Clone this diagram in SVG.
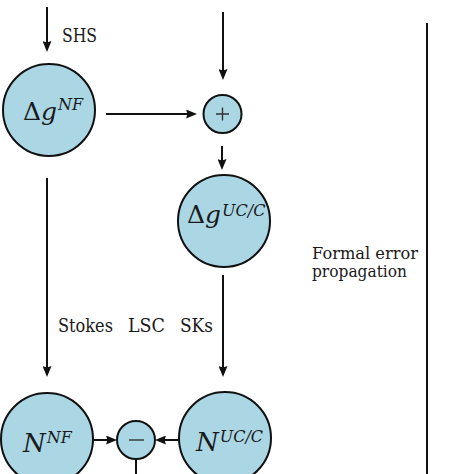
<svg xmlns="http://www.w3.org/2000/svg" width="474" height="474" viewBox="0 0 474 474">
<defs>
<style>
.node{fill:#abd7e5;stroke:#111;stroke-width:2}
.op{fill:#abd7e5;stroke:#111;stroke-width:2}
.sym{stroke:#333;stroke-width:1.4;fill:none}
.edge{stroke:#111;stroke-width:2;fill:none;marker-end:url(#ah)}
.line{stroke:#111;stroke-width:2;fill:none}
text{font-family:'DejaVu Serif','Liberation Serif',serif;fill:#1a1a1a}
</style>
<marker id="ah" viewBox="0 0 11 9" refX="5" refY="4.5" markerWidth="11" markerHeight="9" markerUnits="userSpaceOnUse" orient="auto">
<path d="M0,0 L11,4.5 L0,9 L1.5,4.5 Z" fill="#111"/>
</marker>
</defs>
<rect width="474" height="474" fill="#fff"/>
<g id="connectors">
<line class="edge" x1="47" y1="7" x2="47" y2="46"/>
<line class="edge" x1="223" y1="12" x2="223" y2="74"/>
<line class="edge" x1="106" y1="114" x2="191" y2="114"/>
<line class="edge" x1="222" y1="146" x2="222" y2="164"/>
<line class="edge" x1="47" y1="178" x2="47" y2="371"/>
<line class="edge" x1="223" y1="275" x2="223" y2="371"/>
<line class="edge" x1="93" y1="440" x2="111" y2="440"/>
<line class="edge" x1="179" y1="440" x2="161" y2="440"/>
<line class="line" x1="136" y1="460" x2="136" y2="474"/>
<line class="line" x1="427" y1="23" x2="427" y2="474"/>
</g>
<g id="labels" font-size="18">
<text x="62" y="42" textLength="35" lengthAdjust="spacingAndGlyphs">SHS</text>
<text x="58" y="332" textLength="55" lengthAdjust="spacingAndGlyphs">Stokes</text>
<text x="128" y="332" textLength="37" lengthAdjust="spacingAndGlyphs">LSC</text>
<text x="180" y="332" textLength="33" lengthAdjust="spacingAndGlyphs">SKs</text>
<text x="312" y="259" font-size="17" textLength="106" lengthAdjust="spacingAndGlyphs">Formal error</text>
<text x="312" y="277" font-size="17" textLength="95" lengthAdjust="spacingAndGlyphs">propagation</text>
</g>
<g id="dg-nf">
<circle class="node" cx="49" cy="110" r="46"/>
<text x="23" y="120" font-size="25">Δ<tspan font-style="italic">g</tspan><tspan font-style="italic" font-size="16" dx="1" dy="-10">NF</tspan></text>
</g>
<g id="plus">
<circle class="op" cx="222.5" cy="114" r="19"/>
<path class="sym" d="M216,114 H229 M222.5,107.5 V120.5"/>
</g>
<g id="dg-ucc">
<circle class="node" cx="224" cy="221" r="46"/>
<text x="187" y="223" font-size="25">Δ<tspan font-style="italic">g</tspan><tspan font-style="italic" font-size="16" dx="1" dy="-7">UC/C</tspan></text>
</g>
<g id="n-nf">
<circle class="node" cx="47" cy="439" r="46"/>
<text x="23" y="452" font-size="26" font-style="italic">N<tspan font-size="16" dx="1" dy="-9">NF</tspan></text>
</g>
<g id="minus">
<circle class="op" cx="136" cy="440" r="19"/>
<path class="sym" d="M129,440 H144"/>
</g>
<g id="n-ucc">
<circle class="node" cx="225" cy="438" r="46"/>
<text x="196" y="451" font-size="26" font-style="italic">N<tspan font-size="16" dx="1" dy="-9">UC/C</tspan></text>
</g>
</svg>
